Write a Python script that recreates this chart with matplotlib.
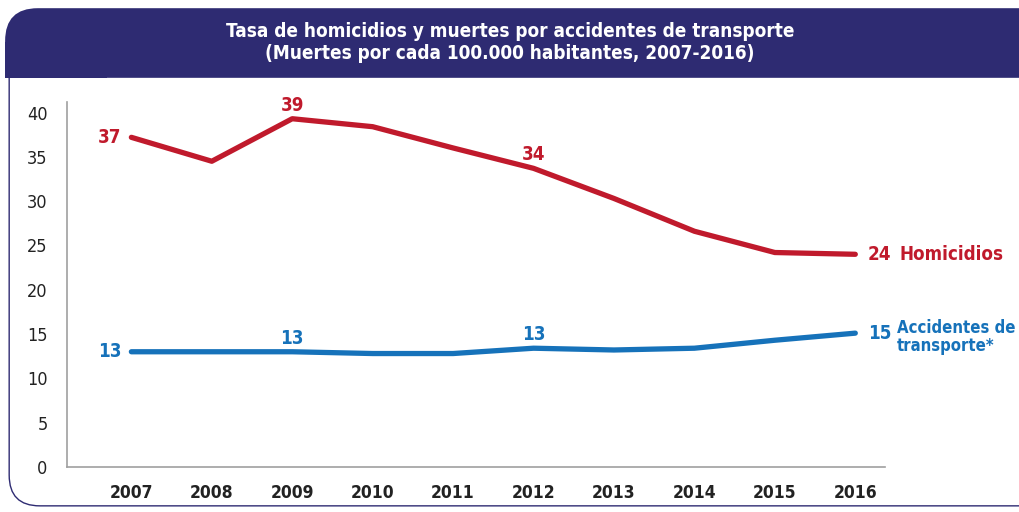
import matplotlib.pyplot as plt
from matplotlib.patches import FancyBboxPatch, Rectangle

plt.rcParams['font.family'] = ['DejaVu Sans']
plt.rcParams['font.stretch'] = 'condensed'

# datos
anios = [2007, 2008, 2009, 2010, 2011, 2012, 2013, 2014, 2015, 2016]
homicidios = [37.2, 34.5, 39.3, 38.4, 36.0, 33.7, 30.3, 26.6, 24.2, 24.0]
transporte = [13.0, 13.0, 13.0, 12.8, 12.8, 13.4, 13.2, 13.4, 14.3, 15.1]

# etiquetas visibles: (indice, texto)
etiq_hom = [(0, '37'), (2, '39'), (5, '34'), (9, '24')]
etiq_tra = [(0, '13'), (2, '13'), (5, '13'), (9, '15')]

rojo = '#c01a2c'
azul = '#1672ba'
navy = '#2e2b72'

fig = plt.figure(figsize=(10.2, 5.12), dpi=100)

# marco y banda del titulo
marco = FancyBboxPatch((0.009, 0.012), 1.2, 0.95, boxstyle='round,pad=0,rounding_size=0.03',
                       transform=fig.transFigure, facecolor='none', edgecolor=navy,
                       linewidth=1.0, mutation_aspect=2.0, zorder=-1)
fig.patches.append(marco)
banda = FancyBboxPatch((0.005, 0.848), 1.2, 0.136, boxstyle='round,pad=0,rounding_size=0.032',
                       transform=fig.transFigure, facecolor=navy, edgecolor=navy,
                       linewidth=0, mutation_aspect=2.0, zorder=-1)
fig.patches.append(banda)
fig.patches.append(Rectangle((0.005, 0.847), 0.1, 0.07, transform=fig.transFigure,
                             facecolor=navy, linewidth=0, zorder=-1))
fig.text(0.5, 0.917, 'Tasa de homicidios y muertes por accidentes de transporte\n'
         '(Muertes por cada 100.000 habitantes, 2007-2016)',
         ha='center', va='center', color='white', fontsize=13.6, fontweight='bold',
         linespacing=1.25)

ax = fig.add_axes([0.0657, 0.088, 0.802, 0.713])
ax.plot(anios, homicidios, color=rojo, linewidth=3.8, solid_capstyle='round')
ax.plot(anios, transporte, color=azul, linewidth=3.8, solid_capstyle='round')

ax.set_xlim(2006.2, 2016.37)
ax.set_ylim(0, 41.2)
ax.set_yticks(range(0, 41, 5))
ax.set_xticks(anios)
ax.tick_params(length=0)
ax.tick_params(axis='y', pad=14, labelsize=13, labelcolor='#222222')
ax.tick_params(axis='x', pad=12, labelsize=12.5, labelcolor='#222222')
for t in ax.get_xticklabels():
    t.set_fontweight('bold')
for s in ['top', 'right']:
    ax.spines[s].set_visible(False)
for s in ['left', 'bottom']:
    ax.spines[s].set_color('#a0a0a0')
    ax.spines[s].set_linewidth(1.2)

estilo = dict(fontsize=13.5, fontweight='bold')


def poner(etiquetas, valores, color):
    for i, txt in etiquetas:
        x, y = anios[i], valores[i]
        if i == 0:
            ax.annotate(txt, (x, y), xytext=(-7, 0), textcoords='offset points',
                        ha='right', va='center', color=color, **estilo)
        elif i == len(anios) - 1:
            ax.annotate(txt, (x, y), xytext=(9, 0), textcoords='offset points',
                        ha='left', va='center', color=color, **estilo)
        else:
            ax.annotate(txt, (x, y), xytext=(0, 3), textcoords='offset points',
                        ha='center', va='bottom', color=color, **estilo)


poner(etiq_hom, homicidios, rojo)
poner(etiq_tra, transporte, azul)

ax.annotate('Homicidios', (anios[-1], homicidios[-1]), xytext=(32, 0),
            textcoords='offset points', ha='left', va='center', color=rojo, **estilo)
ax.annotate('Accidentes de\ntransporte*', (anios[-1], transporte[-1]), xytext=(30, -3),
            textcoords='offset points', ha='left', va='center', color=azul,
            linespacing=1.0, fontsize=12, fontweight='bold')

fig.savefig('out.png', dpi=100)
